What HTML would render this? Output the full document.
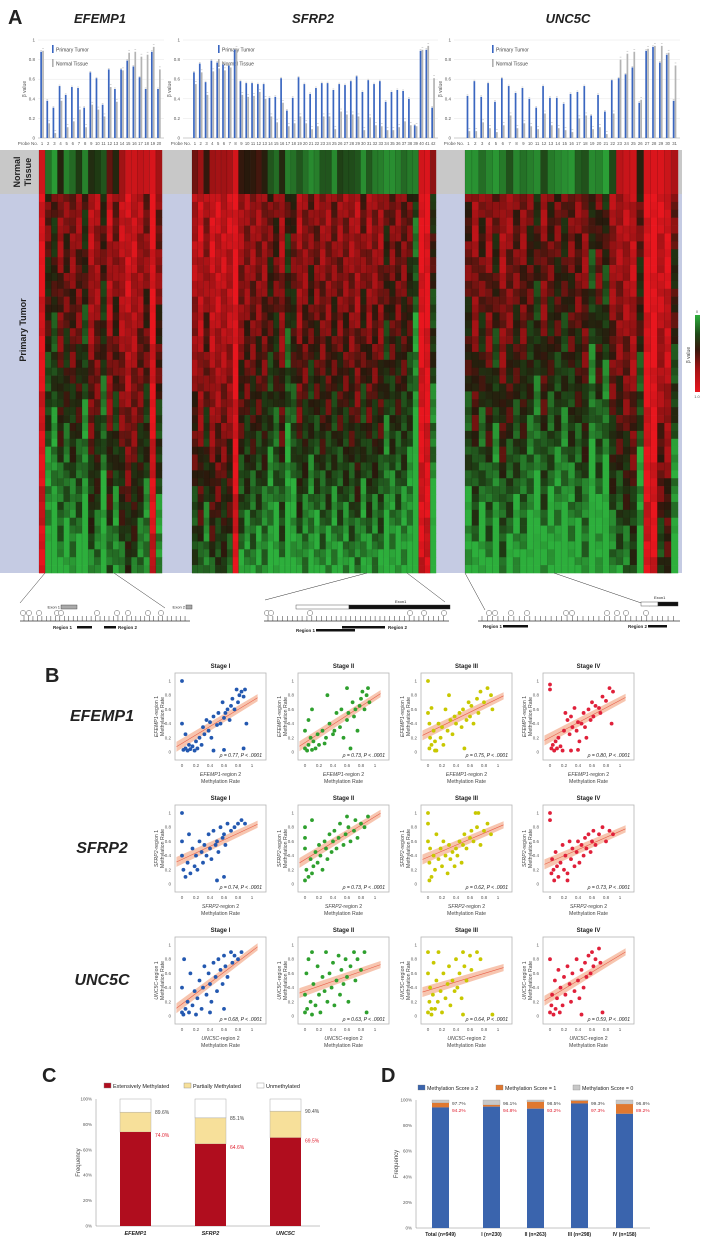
<!DOCTYPE html>
<html><head><meta charset="utf-8">
<style>
html,body{margin:0;padding:0;background:#fff;}
svg{display:block;font-family:"Liberation Sans",sans-serif;}
</style></head>
<body>
<svg id="fig" width="701" height="1239" viewBox="0 0 701 1239" xmlns="http://www.w3.org/2000/svg"></svg>
<script>
// ---------- data: panel A bar charts ----------
const efempTumor=[.88,.38,.31,.53,.44,.52,.51,.31,.67,.61,.34,.70,.50,.70,.79,.73,.62,.50,.88,.50];
const efempNormal=[.89,.15,.05,.38,.11,.17,.29,.11,.34,.29,.22,.52,.37,.69,.87,.88,.83,.85,.93,.70];
const sfrpTumor=[.67,.76,.57,.79,.77,.75,.74,.90,.58,.56,.56,.55,.55,.41,.42,.61,.28,.41,.62,.55,.45,.51,.56,.56,.49,.55,.54,.58,.63,.47,.59,.55,.58,.37,.47,.49,.48,.40,.13,.89,.90,.31];
const sfrpNormal=[.55,.67,.44,.68,.71,.69,.72,.91,.44,.42,.43,.47,.40,.22,.16,.36,.12,.15,.22,.15,.09,.12,.22,.22,.09,.27,.24,.24,.22,.08,.21,.13,.12,.08,.08,.11,.17,.13,.12,.90,.94,.61];
const uncTumor=[.43,.58,.42,.56,.37,.61,.53,.46,.51,.40,.31,.53,.41,.41,.35,.45,.47,.53,.23,.44,.27,.59,.61,.65,.72,.36,.89,.93,.77,.85,.38];
const uncNormal=[.07,.07,.16,.10,.06,.13,.23,.10,.15,.12,.09,.25,.13,.10,.08,.06,.20,.23,.09,.11,.04,.25,.80,.86,.88,.39,.91,.94,.94,.87,.74];
const yTicks=[0,0.2,0.4,0.6,0.8,1];
// ---------- data: panel B scatter ----------
const geneNames=["EFEMP1","SFRP2","UNC5C"];
const stageNames=["Stage I","Stage II","Stage III","Stage IV"];
const rhoEFEMP1=[".77",".73",".75",".80"];
const rhoSFRP2=[".74",".73",".62",".73"];
const rhoUNC5C=[".68",".63",".64",".59"];
const efI=[0,1,.02,.03,.05,.05,.08,.02,.1,.1,.12,.04,.15,.08,.18,.02,.2,.15,.22,.05,.25,.2,.28,.1,.3,.35,.32,.25,.35,.45,.38,.3,.4,.42,.42,.2,.45,.5,.5,.38,.52,.55,.55,.4,.58,.7,.6,.48,.62,.55,.65,.6,.68,.45,.7,.65,.72,.75,.75,.6,.78,.88,.8,.7,.82,.8,.85,.85,.88,.78,.9,.88,.92,.4,0,.4,.05,.25,.45,.02,.6,.03,.88,.05];
const efII=[0,.05,.03,.02,.05,.1,.08,.2,.1,.03,.12,.15,.15,.05,.18,.25,.2,.1,.25,.3,.28,.12,.3,.2,.32,.8,.35,.4,.4,.25,.42,.3,.45,.55,.5,.35,.52,.6,.55,.2,.6,.45,.62,.55,.65,.05,.68,.7,.7,.5,.72,.6,.75,.3,.78,.65,.8,.75,.82,.85,.85,.6,.88,.8,.9,.9,.92,.7,.6,.9,0,.3,.05,.45,.1,.6];
const efIII=[0,1,0,.55,.02,.05,.03,.2,.05,.1,.08,.3,.1,.15,.12,.02,.15,.4,.18,.2,.2,.35,.22,.1,.25,.6,.28,.3,.3,.8,.32,.45,.35,.25,.38,.5,.4,.4,.45,.55,.48,.35,.5,.6,.52,.05,.55,.45,.58,.7,.6,.5,.62,.65,.65,.4,.7,.75,.72,.55,.75,.85,.8,.7,.85,.9,.9,.8,.92,.6,.02,.4,.05,.62,.1,.02];
const efIV=[0,.95,0,.88,.02,.05,.04,.1,.06,.02,.08,.15,.1,.05,.12,.2,.15,.08,.18,.02,.2,.3,.22,.55,.25,.45,.28,.25,.3,.5,.32,.35,.35,.62,.38,.3,.4,.42,.42,.15,.45,.4,.48,.55,.5,.35,.52,.2,.55,.6,.58,.45,.6,.7,.62,.5,.65,.65,.7,.62,.72,.55,.75,.78,.8,.72,.85,.9,.88,.4,.9,.85,.3,.02,.4,.03];
const sfI=[0,1,0,.4,0,.6,.02,.2,.05,.1,.08,.3,.1,.7,.12,.15,.15,.5,.18,.25,.2,.4,.22,.2,.25,.6,.28,.45,.3,.3,.32,.55,.35,.4,.38,.7,.4,.5,.42,.35,.45,.75,.48,.55,.5,.6,.52,.45,.55,.8,.58,.65,.6,.7,.62,.55,.65,.85,.7,.75,.75,.8,.8,.85,.85,.9,.9,.85,.6,.1,.5,.05];
const sfII=[0,.05,0,.5,0,.8,.02,.2,.05,.1,.08,.35,.1,.9,.12,.25,.15,.45,.18,.3,.2,.55,.22,.4,.25,.2,.28,.6,.3,.5,.32,.35,.35,.7,.38,.45,.4,.6,.42,.75,.45,.5,.48,.65,.5,.85,.55,.55,.58,.7,.6,.95,.62,.8,.65,.6,.7,.75,.72,.9,.75,.65,.8,.85,.85,.8,.9,.95,0,.65,.1,.15];
const sfIII=[0,1,0,.85,0,.6,.02,.3,.03,.5,.05,.1,.08,.4,.1,.2,.12,.7,.15,.35,.18,.5,.2,.25,.22,.6,.25,.4,.28,.15,.3,.55,.32,.35,.35,.45,.38,.25,.4,.5,.42,.4,.45,.6,.48,.3,.5,.55,.52,.7,.55,.5,.6,.65,.62,.75,.65,.6,.7,.8,.72,1,.75,.55,.8,.75,.85,.85,.9,.7,.68,1,.02,.05];
const sfIV=[0,1,0,.9,.02,.15,.03,.35,.05,.2,.06,.05,.08,.45,.1,.25,.12,.1,.15,.3,.18,.55,.2,.2,.22,.4,.25,.15,.28,.6,.3,.35,.32,.5,.35,.25,.38,.45,.4,.6,.42,.3,.45,.55,.48,.4,.5,.65,.52,.5,.55,.7,.58,.45,.6,.6,.62,.75,.65,.55,.7,.7,.75,.8,.8,.6,.85,.75,.9,.7,.25,.05];
const unI=[0,.05,0,.4,.02,.02,.03,.8,.05,.1,.08,.2,.1,.05,.12,.6,.15,.15,.18,.35,.2,.02,.22,.25,.25,.5,.28,.1,.3,.4,.32,.7,.35,.3,.38,.6,.4,.45,.42,.2,.45,.75,.48,.55,.5,.35,.52,.8,.55,.65,.58,.45,.6,.85,.62,.7,.65,.55,.7,.9,.72,.75,.75,.85,.8,.8,.85,.9,.4,.05,.6,.1];
const unII=[0,.05,0,.3,.02,.6,.03,.1,.05,.8,.08,.2,.1,.02,.12,.45,.15,.15,.18,.7,.2,.3,.22,.05,.25,.55,.28,.35,.3,.9,.32,.2,.35,.6,.38,.4,.4,.75,.42,.15,.45,.5,.48,.85,.5,.3,.52,.65,.55,.45,.58,.8,.6,.55,.62,.2,.65,.7,.7,.9,.72,.5,.75,.8,.8,.65,.85,.9,.88,.05,.1,.9];
const unIII=[0,.05,0,.6,0,.9,.02,.2,.03,.4,.05,.02,.07,.3,.08,.75,.1,.1,.12,.5,.14,.2,.15,.9,.18,.35,.2,.05,.22,.6,.25,.25,.28,.45,.3,.7,.32,.15,.35,.5,.38,.35,.4,.8,.42,.4,.45,.6,.48,.25,.5,.9,.52,.7,.55,.5,.6,.85,.62,.65,.7,.9,.75,.8,.92,.02,.5,.02,.05,.1];
const unIV=[0,.05,0,.8,.02,.15,.03,.3,.05,.02,.07,.5,.08,.1,.1,.25,.12,.65,.14,.05,.15,.4,.18,.15,.2,.55,.22,.3,.25,.7,.28,.45,.3,.2,.32,.6,.35,.35,.38,.8,.4,.5,.42,.25,.45,.65,.48,.4,.5,.75,.52,.55,.55,.85,.58,.6,.6,.9,.62,.7,.65,.8,.7,.95,.72,.75,.45,.02,.75,.05];
const scatterTicks=[0,0.2,0.4,0.6,0.8,1];
// ---------- data: panel C ----------
const cGenes=["EFEMP1","SFRP2","UNC5C"];
const cExtensive=[74.0,64.6,69.5];
const cMethylatedTotal=[89.6,85.1,90.4];
// ---------- data: panel D ----------
const dGroups=["Total (n=949)","I (n=230)","II (n=263)","III (n=298)","IV (n=158)"];
const dScore2=[94.2,94.8,93.2,97.3,89.2];
const dScoreAny=[97.7,96.1,98.5,99.3,96.8];
const pctTicks=[0,20,40,60,80,100];

const NS="http://www.w3.org/2000/svg";
const svg=document.getElementById('fig');
function mk(tag,attrs,name,parent){
  const e=document.createElementNS(NS,tag);
  for(const k in attrs)e.setAttribute(k,attrs[k]);
  
  
  (parent||svg).appendChild(e);return e;
}
function txt(x,y,s,size,name,extra,parent){
  const a=Object.assign({x:x,y:y,'font-size':size,fill:'#222'},extra||{});
  const t=mk('text',a,name,parent);t.textContent=s;return t;
}
function fmt(v){return v===0?'0':v===1?'1':String(v);}

// ---------- Panel A ----------
txt(8,24,"A",20,'panel-a-label',{'font-weight':'bold'});
const genesA=[
 {name:"EFEMP1",t:efempTumor,n:efempNormal,x0:39,x1:162,axis:38,title:100},
 {name:"SFRP2",t:sfrpTumor,n:sfrpNormal,x0:192,x1:436,axis:183,title:313},
 {name:"UNC5C",t:uncTumor,n:uncNormal,x0:465,x1:678,axis:454,title:568}];
const by0=138,by1=40;
function bY(v){return by0-(by0-by1)*v;}
const cStops=[[0,[45,175,60]],[0.28,[30,60,20]],[0.42,[40,25,12]],[0.6,[140,18,18]],[1,[232,22,30]]];
function color(v){
  v=Math.max(0,Math.min(1,v));
  for(let i=0;i<cStops.length-1;i++){
    const [p0,a]=cStops[i],[p1,b]=cStops[i+1];
    if(v<=p1){const t=(v-p0)/(p1-p0);return 'rgb('+a.map((x,k)=>Math.round(x+(b[k]-x)*t)).join(',')+')';}
  }
  return 'rgb(232,22,30)';
}
mk('rect',{x:0,y:150,width:682,height:44,fill:'#c8c8c8'},'normal-band-bg');
mk('rect',{x:0,y:194,width:682,height:379,fill:'#c5cbe3'},'tumor-band-bg');
txt(20,172,"Normal",9,'normal-label-1',{'font-weight':'bold',transform:'rotate(-90 20 172)','text-anchor':'middle'});
txt(31,172,"Tissue",9,'normal-label-2',{'font-weight':'bold',transform:'rotate(-90 31 172)','text-anchor':'middle'});
txt(26,330,"Primary Tumor",9,'tumor-label',{'font-weight':'bold',transform:'rotate(-90 26 330)','text-anchor':'middle'});

const stripeShift=[0.05,-0.06,0.1,-0.02,0.0,-0.08,0.07,0.02,-0.04,0.09,-0.07,0.03];
genesA.forEach((g,gi)=>{
  const n=g.t.length, w=(g.x1-g.x0)/n;
  txt(g.title,23,g.name,13,'gene-title-'+g.name,{'font-weight':'bold','font-style':'italic','text-anchor':'middle'});
  const grp=mk('g',{},'bar-chart-'+g.name);
  yTicks.forEach(v=>{
    mk('line',{x1:g.axis,x2:g.x1+2,y1:bY(v),y2:bY(v),stroke:v===0?'#999':'#e6e6e6','stroke-width':0.5},'gridline',grp);
    txt(g.axis-3,bY(v)+1.5,fmt(v),4.5,'y-tick-label',{'text-anchor':'end',fill:'#555'},grp);
  });
  txt(g.axis-12,bY(0.5),"β value",5,'y-axis-title',{transform:'rotate(-90 '+(g.axis-12)+' '+bY(0.5)+')','text-anchor':'middle',fill:'#555'},grp);
  txt(g.x0-1,145,"Probe No.",4.5,'x-axis-title',{'text-anchor':'end',fill:'#555'},grp);
  const lx=g.x0+(gi===0?13:gi===1?26:27);
  mk('rect',{x:lx,y:45,width:1.6,height:8,fill:'#3a66c0'},'legend-swatch-tumor',grp);
  txt(lx+4,51.5,"Primary Tumor",5,'legend-label-tumor',{fill:'#444'},grp);
  mk('rect',{x:lx,y:59,width:1.6,height:8,fill:'#b0b0b0'},'legend-swatch-normal',grp);
  txt(lx+4,65.5,"Normal Tissue",5,'legend-label-normal',{fill:'#444'},grp);
  for(let i=0;i<n;i++){
    const cx=g.x0+(i+0.5)*w;
    mk('rect',{x:cx-1.8,y:bY(g.t[i]),width:1.7,height:by0-bY(g.t[i]),fill:'#3a66c0'},'bar-tumor-'+(i+1),grp);
    mk('line',{x1:cx-1.8,x2:cx-0.1,y1:bY(g.t[i])-1,y2:bY(g.t[i])-1,stroke:'#999','stroke-width':0.4},'error-bar',grp);
    mk('rect',{x:cx+0.1,y:bY(g.n[i]),width:1.7,height:by0-bY(g.n[i]),fill:'#b4b4b4'},'bar-normal-'+(i+1),grp);
    mk('line',{x1:cx+0.1,x2:cx+1.8,y1:bY(g.n[i])-2.5,y2:bY(g.n[i])-2.5,stroke:'#999','stroke-width':0.4},'error-bar',grp);
    txt(cx,145,String(i+1),4.2,'probe-label',{'text-anchor':'middle',fill:'#555'},grp);
    mk('rect',{x:g.x0+i*w,y:150,width:w+0.2,height:44,fill:color(g.n[i])},'heatmap-normal-col-'+(i+1));
    const segs=48, top=194, h=379/segs;
    const t=g.t[i], drop=t>0.85?0.1:0.62;
    for(let s=0;s<segs;s++){
      const v=t+0.1-drop*Math.pow(s/(segs-1),1.6)+stripeShift[(s*5+i)%12]*1.6;
      mk('rect',{x:g.x0+i*w,y:top+s*h,width:w+0.2,height:h+0.3,fill:color(v)},'heatmap-tumor-cell');
    }
    mk('line',{x1:g.x0+i*w,x2:g.x0+i*w,y1:150,y2:573,stroke:'rgba(0,0,0,0.35)','stroke-width':0.4},'heatmap-col-sep');
  }
});
const cbDefs=mk('defs',{},'defs');
const lg=mk('linearGradient',{id:'cb',x1:0,y1:0,x2:0,y2:1},'colorbar-gradient',cbDefs);
[0,0.25,0.45,0.7,1].forEach(v=>mk('stop',{offset:v,'stop-color':color(v)},'stop',lg));
mk('rect',{x:695,y:315,width:5,height:77,fill:'url(#cb)'},'colorbar');
txt(697,313,"0",4,'colorbar-min',{'text-anchor':'middle',fill:'#555'});
txt(697,398,"1.0",4,'colorbar-max',{'text-anchor':'middle',fill:'#555'});
txt(690,355,"β value",5,'colorbar-title',{transform:'rotate(-90 690 355)','text-anchor':'middle',fill:'#444'});

function gs(name,base,x1,x2,links,circ,regions,exon){
  const g=mk('g',{},'gene-structure-'+name);
  links.forEach(l=>mk('line',{x1:l[0],y1:573,x2:l[1],y2:l[2],stroke:'#333','stroke-width':0.5},'zoom-link',g));
  mk('line',{x1:x1,x2:x2,y1:base,y2:base,stroke:'#333','stroke-width':0.7},'gene-baseline',g);
  for(let x=x1+4;x<x2-3;x+= (x2-x1)/38){mk('line',{x1:x,x2:x,y1:base-5,y2:base,stroke:'#333','stroke-width':0.5},'cpg-tick',g);}
  circ.forEach((c,i)=>{mk('circle',{cx:c,cy:base-8,r:2.6,fill:'#fff',stroke:'#333','stroke-width':0.4},'probe-circle',g);});
  regions.forEach(r=>{mk('rect',{x:r[0],y:r[2],width:r[1]-r[0],height:2.5,fill:'#111'},'region-bar',g);txt(r[3],r[2]+3,r[4],4.5,'region-label',{'font-weight':'bold'},g);});
  exon.forEach(e=>{mk('rect',{x:e[0],y:e[2],width:e[1]-e[0],height:4,fill:e[3],stroke:'#333','stroke-width':0.4},'exon-box',g);txt(e[0]-(e[4]?1:-8),e[2]+3.5,e[5],4,'exon-label',{'text-anchor':e[4]?'end':'start'},g);});
}
gs("EFEMP1",621,20,190,[[45,20,603],[114,165,608]],[23,29,39,57,61,97,117,128,148,161],[[77,92,626,53,"Region 1"],[104,116,626,118,"Region 2"]],[[61,77,605,'#aaa',1,"Exon 1"],[186,192,605,'#aaa',1,"Exon 2"]]);
gs("SFRP2",621,264,449,[[367,265,600],[407,445,602]],[267,271,310,410,424,444],[[342,385,626,388,"Region 2"],[316,355,629,296,"Region 1"]],[[296,349,605,'#fff',0,""],[349,450,605,'#111',0,""]]);
txt(395,603,"Exon1",4,'exon-label');
gs("UNC5C",621,478,680,[[465,485,610],[554,650,606]],[489,495,511,527,566,572,607,617,626,646],[[503,528,625,483,"Region 1"],[648,667,625,628,"Region 2"]],[[641,658,602,'#fff',0,""],[658,678,602,'#111',0,""]]);
txt(654,599,"Exon1",4,'exon-label');

// ---------- Panel B ----------
txt(45,682,"B",20,'panel-b-label',{'font-weight':'bold'});
const rowData=[[efI,efII,efIII,efIV],[sfI,sfII,sfIII,sfIV],[unI,unII,unIII,unIV]];
const rhoRows=[rhoEFEMP1,rhoSFRP2,rhoUNC5C];
const colors=['#2358b0','#2ea02e','#c8c800','#e0203a'];
const boxX=[175,298,421,543], boxW=91, rowTop=[673,805,937], boxH=87;
rowData.forEach((row,ri)=>{
  const top=rowTop[ri];
  txt(102,top+48,geneNames[ri],16,'gene-label-'+geneNames[ri],{'font-weight':'bold','font-style':'italic','text-anchor':'middle'});
  row.forEach((pts,ci)=>{
    const bx=boxX[ci];
    const g=mk('g',{},'scatter-'+geneNames[ri]+'-stage-'+(ci+1));
    const X=v=>bx+7+v*70, Y=v=>top+79-v*71;
    txt(bx+boxW/2,top-5,stageNames[ci],6,'stage-title',{'font-weight':'bold','text-anchor':'middle'},g);
    mk('rect',{x:bx,y:top,width:boxW,height:boxH,fill:'#fff',stroke:'#b5b5b5','stroke-width':0.8},'plot-box',g);
    scatterTicks.forEach(v=>{
      txt(X(v),top+boxH+7,fmt(v),4.5,'x-tick-label',{'text-anchor':'middle',fill:'#555'},g);
      txt(bx-4,Y(v)+1.5,fmt(v),4.5,'y-tick-label',{'text-anchor':'end',fill:'#555'},g);
    });
    let n=pts.length/2,sx=0,sy=0,sxx=0,sxy=0;
    for(let k=0;k<n;k++){const x=pts[2*k],y=pts[2*k+1];sx+=x;sy+=y;sxx+=x*x;sxy+=x*y;}
    const b=(n*sxy-sx*sy)/(n*sxx-sx*sx), a=(sy-b*sx)/n;
    const lx0=-0.08,lx1=1.08;
    const clipId='clip'+ri+ci;
    const cp=mk('clipPath',{id:clipId},'clip',g);mk('rect',{x:bx,y:top,width:boxW,height:boxH},'clip-rect',cp);
    mk('polygon',{points:[[X(lx0),Y(a+b*lx0+0.07)],[X(lx1),Y(a+b*lx1+0.05)],[X(lx1),Y(a+b*lx1-0.05)],[X(lx0),Y(a+b*lx0-0.07)]].map(p=>p.join(',')).join(' '),fill:'rgba(240,150,110,0.55)','clip-path':'url(#'+clipId+')'},'confidence-band',g);
    mk('line',{x1:X(lx0),y1:Y(a+b*lx0),x2:X(lx1),y2:Y(a+b*lx1),stroke:'#e8604a','stroke-width':0.6,'clip-path':'url(#'+clipId+')'},'regression-line',g);
    for(let k=0;k<n;k++){
      mk('circle',{cx:X(pts[2*k]),cy:Y(pts[2*k+1]),r:1.9,fill:colors[ci]},'point',g);
    }
    txt(bx+boxW-4,top+boxH-3,"ρ = 0"+rhoRows[ri][ci]+", P < .0001",5,'correlation-annotation',{'text-anchor':'end','font-style':'italic'},g);
    const xl=txt(bx+boxW/2,top+boxH+16,"",5.2,'x-axis-title',{'text-anchor':'middle',fill:'#444'},g);
    xl.innerHTML='<tspan font-style="italic">'+geneNames[ri]+'</tspan>-region 2';
    txt(bx+boxW/2,top+boxH+23,"Methylation Rate",5.2,'x-axis-title-2',{'text-anchor':'middle',fill:'#444'},g);
    const yx=bx-17, yy=top+boxH/2;
    const yl=txt(yx,yy,"",5.2,'y-axis-title',{'text-anchor':'middle',fill:'#444',transform:'rotate(-90 '+yx+' '+yy+')'},g);
    yl.innerHTML='<tspan font-style="italic">'+geneNames[ri]+'</tspan>-region 1';
    txt(yx+6,yy,"Methylation Rate",5.2,'y-axis-title-2',{'text-anchor':'middle',fill:'#444',transform:'rotate(-90 '+(yx+6)+' '+yy+')'},g);
  });
});

// ---------- Panel C ----------
txt(42,1082,"C",20,'panel-c-label',{'font-weight':'bold'});
const cg=mk('g',{},'panel-c-chart');
const cY=v=>1226-v*1.27;
[['#b00d1e',"Extensively Methylated",104],['#f7e09a',"Partially Methylated",184],['#fff',"Unmethylated",257]].forEach(l=>{
  mk('rect',{x:l[2],y:1083,width:7,height:5,fill:l[0],stroke:'#888','stroke-width':0.4},'legend-swatch',cg);
  txt(l[2]+9,1088,l[1],5.5,'legend-label',{},cg);
});
mk('line',{x1:96,x2:96,y1:cY(100),y2:cY(0),stroke:'#888','stroke-width':0.5},'y-axis',cg);
mk('line',{x1:96,x2:320,y1:cY(0),y2:cY(0),stroke:'#888','stroke-width':0.5},'x-axis',cg);
pctTicks.forEach(v=>txt(92,cY(v)+1.5,v+"%",4.5,'y-tick-label',{'text-anchor':'end',fill:'#555'},cg));
txt(80,cY(50),"Frequency",6,'y-axis-title',{transform:'rotate(-90 80 '+cY(50)+')','text-anchor':'middle',fill:'#444'},cg);
const cBarX=[120,195,270];
cGenes.forEach((gname,i)=>{
  const x=cBarX[i],w=31;
  mk('rect',{x:x,y:cY(100),width:w,height:cY(cMethylatedTotal[i])-cY(100),fill:'#fff',stroke:'#aaa','stroke-width':0.5},'bar-unmethylated-'+gname,cg);
  mk('rect',{x:x,y:cY(cMethylatedTotal[i]),width:w,height:cY(cExtensive[i])-cY(cMethylatedTotal[i]),fill:'#f7e09a',stroke:'#aaa','stroke-width':0.4},'bar-partial-'+gname,cg);
  mk('rect',{x:x,y:cY(cExtensive[i]),width:w,height:cY(0)-cY(cExtensive[i]),fill:'#b00d1e'},'bar-extensive-'+gname,cg);
  txt(x+w+4,cY(cMethylatedTotal[i])+2,cMethylatedTotal[i].toFixed(1)+"%",5,'label-total',{fill:'#444'},cg);
  txt(x+w+4,cY(cExtensive[i])+5,cExtensive[i].toFixed(1)+"%",5,'label-extensive',{fill:'#e02030'},cg);
  txt(x+w/2,1235,gname,5.5,'x-tick-label',{'text-anchor':'middle','font-weight':'bold','font-style':'italic'},cg);
});

// ---------- Panel D ----------
txt(381,1082,"D",20,'panel-d-label',{'font-weight':'bold'});
const dg=mk('g',{},'panel-d-chart');
const dY=v=>1228-v*1.28;
[['#3a64ad',"Methylation Score ≥ 2",418],['#e07830',"Methylation Score = 1",496],['#c8c8c8',"Methylation Score = 0",573]].forEach(l=>{
  mk('rect',{x:l[2],y:1085,width:7,height:5,fill:l[0],stroke:'#777','stroke-width':0.3},'legend-swatch',dg);
  txt(l[2]+9,1090,l[1],5.3,'legend-label',{},dg);
});
mk('line',{x1:416,x2:416,y1:dY(100),y2:dY(0),stroke:'#888','stroke-width':0.5},'y-axis',dg);
mk('line',{x1:416,x2:650,y1:dY(0),y2:dY(0),stroke:'#888','stroke-width':0.5},'x-axis',dg);
pctTicks.forEach(v=>txt(412,dY(v)+1.5,v+"%",4.5,'y-tick-label',{'text-anchor':'end',fill:'#555'},dg));
txt(398,dY(50),"Frequency",6,'y-axis-title',{transform:'rotate(-90 398 '+dY(50)+')','text-anchor':'middle',fill:'#444'},dg);
const dBarX=[432,483,527,571,616];
dGroups.forEach((gname,i)=>{
  const x=dBarX[i],w=17;
  mk('rect',{x:x,y:dY(100),width:w,height:dY(dScoreAny[i])-dY(100),fill:'#c8c8c8',stroke:'#999','stroke-width':0.3},'bar-score0-'+i,dg);
  mk('rect',{x:x,y:dY(dScoreAny[i]),width:w,height:dY(dScore2[i])-dY(dScoreAny[i]),fill:'#e07830'},'bar-score1-'+i,dg);
  mk('rect',{x:x,y:dY(dScore2[i]),width:w,height:dY(0)-dY(dScore2[i]),fill:'#3a64ad'},'bar-score2-'+i,dg);
  txt(x+w+3,dY(100)+5,dScoreAny[i].toFixed(1)+"%",4.8,'label-any',{fill:'#444'},dg);
  txt(x+w+3,dY(100)+12,dScore2[i].toFixed(1)+"%",4.8,'label-score2',{fill:'#e02030'},dg);
  txt(x+w/2,1236,gname,5,'x-tick-label',{'text-anchor':'middle','font-weight':'bold'},dg);
});
</script>
</body></html>
